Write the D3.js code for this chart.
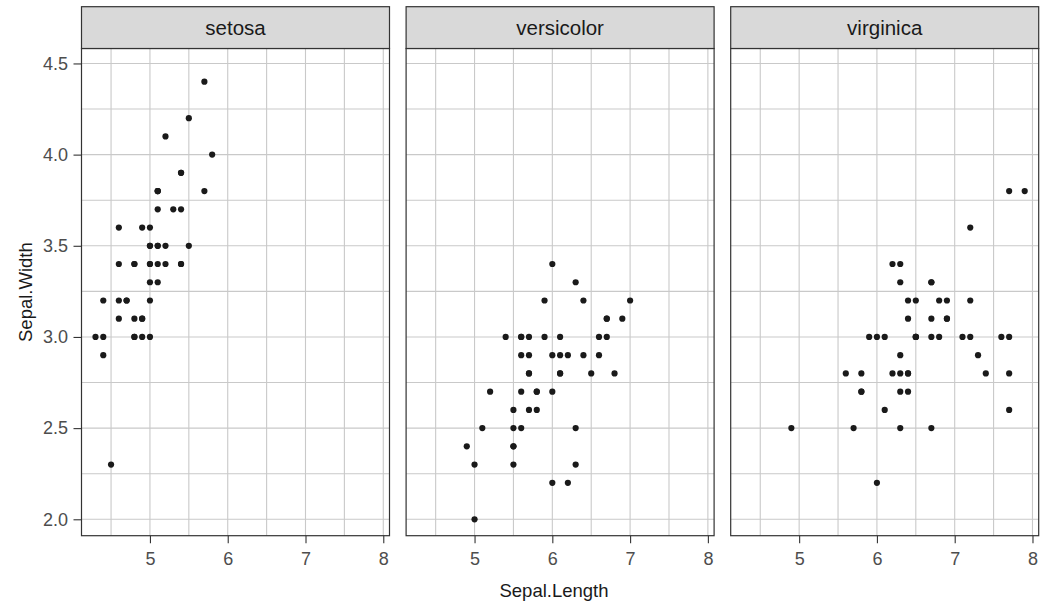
<!DOCTYPE html>
<html>
<head>
<meta charset="utf-8">
<script src="https://cdn.jsdelivr.net/npm/d3@7"></script>
<style>
  body { margin: 0; background: #fff; }
  svg text { font-family: "Liberation Sans", Arial, sans-serif; }
</style>
</head>
<body>
<div class="main"></div>
<script>
// iris, Sepal.Length / Sepal.Width by species
const species = ["setosa", "versicolor", "virginica"];

const setosaLength = [5.1,4.9,4.7,4.6,5.0,5.4,4.6,5.0,4.4,4.9,5.4,4.8,4.8,4.3,5.8,5.7,5.4,5.1,5.7,5.1,
  5.4,5.1,4.6,5.1,4.8,5.0,5.0,5.2,5.2,4.7,4.8,5.4,5.2,5.5,4.9,5.0,5.5,4.9,4.4,5.1,
  5.0,4.5,4.4,5.0,5.1,4.8,5.1,4.6,5.3,5.0];
const setosaWidth = [3.5,3.0,3.2,3.1,3.6,3.9,3.4,3.4,2.9,3.1,3.7,3.4,3.0,3.0,4.0,4.4,3.9,3.5,3.8,3.8,
  3.4,3.7,3.6,3.3,3.4,3.0,3.4,3.5,3.4,3.2,3.1,3.4,4.1,4.2,3.1,3.2,3.5,3.6,3.0,3.4,
  3.5,2.3,3.2,3.5,3.8,3.0,3.8,3.2,3.7,3.3];

const versicolorLength = [7.0,6.4,6.9,5.5,6.5,5.7,6.3,4.9,6.6,5.2,5.0,5.9,6.0,6.1,5.6,6.7,5.6,5.8,6.2,5.6,
  5.9,6.1,6.3,6.1,6.4,6.6,6.8,6.7,6.0,5.7,5.5,5.5,5.8,6.0,5.4,6.0,6.7,6.3,5.6,5.5,
  5.5,6.1,5.8,5.0,5.6,5.7,5.7,6.2,5.1,5.7];
const versicolorWidth = [3.2,3.2,3.1,2.3,2.8,2.8,3.3,2.4,2.9,2.7,2.0,3.0,2.2,2.9,2.9,3.1,3.0,2.7,2.2,2.5,
  3.2,2.8,2.5,2.8,2.9,3.0,2.8,3.0,2.9,2.6,2.4,2.4,2.7,2.7,3.0,3.4,3.1,2.3,3.0,2.5,
  2.6,3.0,2.6,2.3,2.7,3.0,2.9,2.9,2.5,2.8];

const virginicaLength = [6.3,5.8,7.1,6.3,6.5,7.6,4.9,7.3,6.7,7.2,6.5,6.4,6.8,5.7,5.8,6.4,6.5,7.7,7.7,6.0,
  6.9,5.6,7.7,6.3,6.7,7.2,6.2,6.1,6.4,7.2,7.4,7.9,6.4,6.3,6.1,7.7,6.3,6.4,6.0,6.9,
  6.7,6.9,5.8,6.8,6.7,6.7,6.3,6.5,6.2,5.9];
const virginicaWidth = [3.3,2.7,3.0,2.9,3.0,3.0,2.5,2.9,2.5,3.6,3.2,2.7,3.0,2.5,2.8,3.2,3.0,3.8,2.6,2.2,
  3.2,2.8,2.8,2.7,3.3,3.2,2.8,3.0,2.8,3.0,2.8,3.8,2.8,2.8,2.6,3.0,3.4,3.1,3.0,3.1,
  3.1,3.1,2.7,3.2,3.3,3.0,2.5,3.0,3.4,3.0];

const xTicks = [5, 6, 7, 8];
const xMinor = [4.5, 5.5, 6.5, 7.5];
const yTicks = [2.0, 2.5, 3.0, 3.5, 4.0, 4.5];
const yMinor = [2.25, 2.75, 3.25, 3.75, 4.25];

const lengths = [setosaLength, versicolorLength, virginicaLength];
const widths = [setosaWidth, versicolorWidth, virginicaWidth];

let width = 1041, height = 601;

let svg = d3.select("div.main").append("svg")
  .attr("width", width)
  .attr("height", height);

// panel geometry
let stripTop = 6.7, panelTop = 48.5, panelBottom = 535.7;
let panelW = 308, panelGap = 16.6, firstLeft = 81.5;

let y = d3.scaleLinear()
  .domain([1.91, 4.582])
  .range([panelBottom, panelTop]);

let gridColor = "#c9c9c9", borderColor = "#333333";
let tickFont = 18;

species.forEach(function(name, i) {
  let left = firstLeft + i * (panelW + panelGap);
  let x = d3.scaleLinear()
    .domain([4.12, 8.08])
    .range([left, left + panelW]);

  let g = svg.append("g").attr("class", "panel");

  // grid lines (minor + major look the same here)
  g.selectAll("line.vgrid")
    .data(xMinor.concat(xTicks))
    .enter().append("line")
      .attr("class", "vgrid")
      .attr("x1", d => x(d)).attr("x2", d => x(d))
      .attr("y1", panelTop).attr("y2", panelBottom)
      .attr("stroke", gridColor).attr("stroke-width", 1.1);

  g.selectAll("line.hgrid")
    .data(yMinor.concat(yTicks))
    .enter().append("line")
      .attr("class", "hgrid")
      .attr("x1", left).attr("x2", left + panelW)
      .attr("y1", d => y(d)).attr("y2", d => y(d))
      .attr("stroke", gridColor).attr("stroke-width", 1.1);

  // points
  let pts = lengths[i].map((v, k) => [v, widths[i][k]]);
  g.selectAll("circle")
    .data(pts)
    .enter().append("circle")
      .attr("cx", d => x(d[0]))
      .attr("cy", d => y(d[1]))
      .attr("r", 3.1)
      .attr("fill", "#1a1a1a");

  // panel border
  g.append("rect")
    .attr("x", left).attr("y", panelTop)
    .attr("width", panelW).attr("height", panelBottom - panelTop)
    .attr("fill", "none")
    .attr("stroke", borderColor).attr("stroke-width", 1.2);

  // strip
  g.append("rect")
    .attr("x", left).attr("y", stripTop)
    .attr("width", panelW).attr("height", panelTop - stripTop)
    .attr("fill", "#d9d9d9")
    .attr("stroke", borderColor).attr("stroke-width", 1.2);

  g.append("text")
    .attr("x", left + panelW / 2)
    .attr("y", (stripTop + panelTop) / 2)
    .attr("dy", "0.35em")
    .attr("text-anchor", "middle")
    .attr("font-size", 20.5)
    .attr("fill", "#1a1a1a")
    .text(name);

  // x axis
  let xAxis = svg.append("g")
    .attr("transform", "translate(0," + panelBottom + ")")
    .call(d3.axisBottom(x).tickValues(xTicks).tickSize(7.5).tickPadding(9.5).tickFormat(d3.format("d")));
  xAxis.select(".domain").remove();
  xAxis.selectAll(".tick line").attr("stroke", borderColor).attr("stroke-width", 1.1);
  xAxis.selectAll(".tick text")
    .attr("font-size", tickFont)
    .attr("font-family", "Liberation Sans, Arial, sans-serif")
    .attr("fill", "#4d4d4d");
});

// y axis on first panel only
let yAxis = svg.append("g")
  .attr("transform", "translate(" + firstLeft + ",0)")
  .call(d3.axisLeft(y).tickValues(yTicks).tickSize(8).tickPadding(5.5).tickFormat(d3.format(".1f")));
yAxis.select(".domain").remove();
yAxis.selectAll(".tick line").attr("stroke", borderColor).attr("stroke-width", 1.1);
yAxis.selectAll(".tick text")
  .attr("font-size", tickFont)
  .attr("font-family", "Liberation Sans, Arial, sans-serif")
  .attr("fill", "#4d4d4d");

// axis titles
svg.append("text")
  .attr("x", 554)
  .attr("y", 597)
  .attr("text-anchor", "middle")
  .attr("font-size", 18.5)
  .attr("fill", "#1a1a1a")
  .text("Sepal.Length");

svg.append("text")
  .attr("transform", "translate(32," + (panelTop + panelBottom) / 2 + ") rotate(-90)")
  .attr("text-anchor", "middle")
  .attr("font-size", 18.5)
  .attr("fill", "#1a1a1a")
  .text("Sepal.Width");
</script>
</body>
</html>
